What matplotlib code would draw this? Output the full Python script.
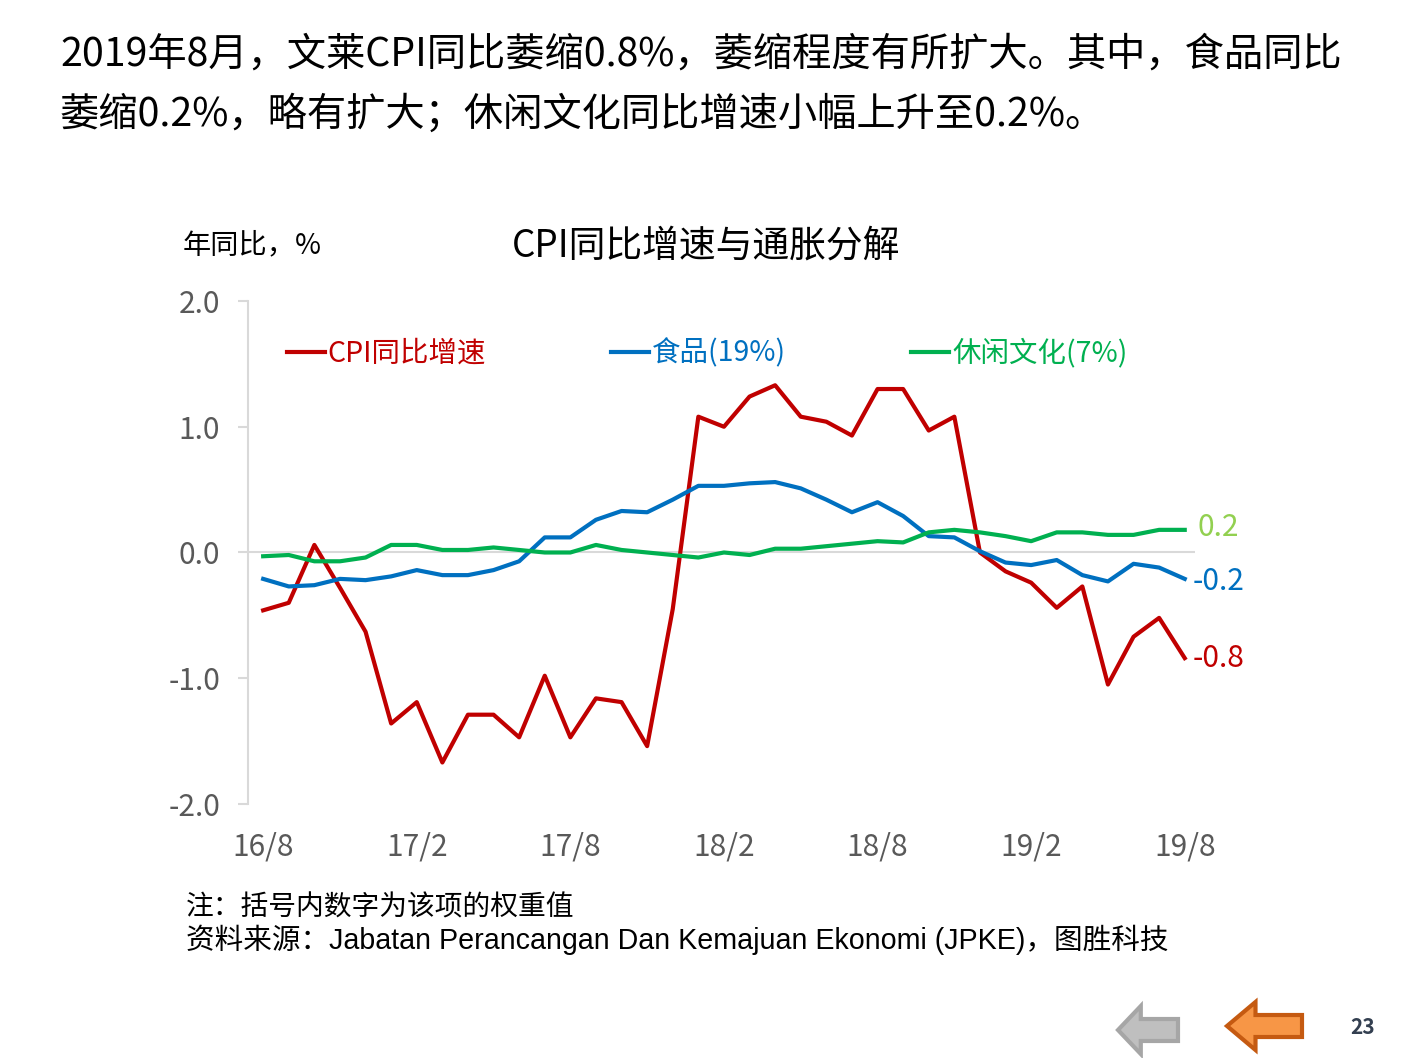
import matplotlib.pyplot as plt
from matplotlib.patches import Polygon

plt.rcParams['font.family'] = ['Noto Sans CJK SC', 'DejaVu Sans']

# monthly data, 2016/8 .. 2019/8
cpi = [-0.46, -0.40, 0.06, -0.28, -0.63, -1.36, -1.19, -1.67, -1.29, -1.29,
       -1.47, -0.98, -1.47, -1.16, -1.19, -1.54, -0.45, 1.08, 1.00, 1.24,
       1.33, 1.08, 1.04, 0.93, 1.30, 1.30, 0.97, 1.08, 0.00, -0.15,
       -0.24, -0.44, -0.27, -1.05, -0.67, -0.52, -0.84]
food = [-0.21, -0.27, -0.26, -0.21, -0.22, -0.19, -0.14, -0.18, -0.18, -0.14,
        -0.07, 0.12, 0.12, 0.26, 0.33, 0.32, 0.42, 0.53, 0.53, 0.55,
        0.56, 0.51, 0.42, 0.32, 0.40, 0.29, 0.13, 0.12, 0.01, -0.08,
        -0.10, -0.06, -0.18, -0.23, -0.09, -0.12, -0.21]
leisure = [-0.03, -0.02, -0.07, -0.07, -0.04, 0.06, 0.06, 0.02, 0.02, 0.04,
           0.02, 0.00, 0.00, 0.06, 0.02, 0.00, -0.02, -0.04, 0.00, -0.02,
           0.03, 0.03, 0.05, 0.07, 0.09, 0.08, 0.16, 0.18, 0.16, 0.13,
           0.09, 0.16, 0.16, 0.14, 0.14, 0.18, 0.18]
tick_labels = ['16/8', '17/2', '17/8', '18/2', '18/8', '19/2', '19/8']
end_labels = ['-0.8', '-0.2', '0.2']

x = list(range(len(cpi)))

fig = plt.figure(figsize=(14.11, 10.58), dpi=100)
ax = fig.add_axes([0.1758, 0.2401, 0.6711, 0.4754])

red, blue, green = '#C00000', '#0070C0', '#00B050'
l1, = ax.plot(x, cpi, color=red, lw=3.0, label='CPI同比增速')
l2, = ax.plot(x, food, color=blue, lw=3.0, label='食品(19%)')
l3, = ax.plot(x, leisure, color=green, lw=3.0, label='休闲文化(7%)')

ax.axhline(0, color='#D9D9D9', lw=1.5, zorder=0)
ax.set_xlim(-0.59, 36.4)
ax.set_ylim(-2, 2)
ax.set_yticks([-2, -1, 0, 1, 2])
ax.set_yticklabels(['-2.0', '-1.0', '0.0', '1.0', '2.0'])
ax.set_xticks(x[::6])
ax.set_xticklabels(tick_labels)
for s in ['top', 'right', 'bottom']:
    ax.spines[s].set_visible(False)
ax.spines['left'].set_color('#D9D9D9')
ax.spines['left'].set_linewidth(1.5)
ax.tick_params(axis='y', colors='#D9D9D9', labelcolor='#595959', labelsize=21.5,
               length=7, width=1.5, pad=13)
ax.tick_params(axis='x', length=0, labelcolor='#595959', labelsize=21.5, pad=20)

# end-of-line labels
ax.text(36.3, cpi[-1], end_labels[0], color=red, fontsize=21.5, va='center', ha='left')
ax.text(36.3, food[-1] - 0.02, end_labels[1], color=blue, fontsize=21.5, va='center', ha='left')
ax.text(36.5, leisure[-1] + 0.02, end_labels[2], color='#92D050', fontsize=21.5, va='center', ha='left')

leg = ax.legend(handles=[l1, l2, l3], loc='center left', bbox_to_anchor=(0.041, 0.895),
                ncol=3, frameon=False, fontsize=20.5, handlelength=1.33,
                handletextpad=0.1, columnspacing=4.4, borderaxespad=0, borderpad=0)
for t, c in zip(leg.get_texts(), [red, blue, green]):
    t.set_color(c)

# texts
fig.text(60 / 1411, 1 - 55 / 1058, '2019年8月，文莱CPI同比萎缩0.8%，萎缩程度有所扩大。其中，食品同比',
         fontsize=28.3, va='center', ha='left', color='black')
fig.text(60 / 1411, 1 - 115 / 1058, '萎缩0.2%，略有扩大；休闲文化同比增速小幅上升至0.2%。',
         fontsize=28.3, va='center', ha='left', color='black')
fig.text(183 / 1411, 1 - 245 / 1058, '年同比，%', fontsize=20.3, va='center', ha='left')
fig.text(706 / 1411, 1 - 246 / 1058, 'CPI同比增速与通胀分解', fontsize=26.5, va='center',
         ha='center')
fig.text(186 / 1411, 1 - 907 / 1058, '注：括号内数字为该项的权重值', fontsize=20,
         va='center', ha='left')
fig.text(186 / 1411, 1 - 940 / 1058,
         '资料来源：Jabatan Perancangan Dan Kemajuan Ekonomi (JPKE)，图胜科技',
         fontsize=20.6, va='center', ha='left',
         family=['Liberation Sans', 'Noto Sans CJK SC'])
fig.text(1363 / 1411, 1 - 1028 / 1058, '23', fontsize=15, fontweight='bold',
         color='#333F50', va='center', ha='center')

# navigation arrows
W, H = 1411, 1058
def arrow(x0, x1, yc, hh, bh, face, edge):
    neck = x0 + (x1 - x0) * 0.38
    pts = [(x0, yc), (neck, yc + hh), (neck, yc + bh), (x1, yc + bh),
           (x1, yc - bh), (neck, yc - bh), (neck, yc - hh)]
    pts = [(px / W, 1 - py / H) for px, py in pts]
    fig.patches.append(Polygon(pts, closed=True, transform=fig.transFigure,
                               facecolor=face, edgecolor=edge, lw=3))

arrow(1118, 1178, 1030, 24, 11, '#BFBFBF', '#A6A6A6')
arrow(1227, 1302, 1026, 24, 11, '#F79646', '#C55A11')

fig.savefig('out.png', dpi=100)
